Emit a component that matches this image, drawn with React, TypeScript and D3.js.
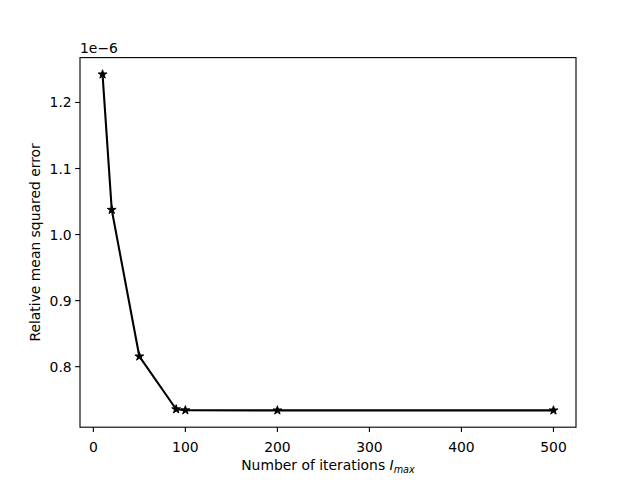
import React from "react";
import * as d3 from "d3";

const iterations = [10, 20, 50, 90, 100, 200, 500];
const errors = [1.2425, 1.0375, 0.8155, 0.7355, 0.734, 0.7338, 0.7338]; // x 1e-6
const xTicks = [0, 100, 200, 300, 400, 500];
const yTicks = [0.8, 0.9, 1.0, 1.1, 1.2];

const W = 640, H = 480;
const L = 80, R = 576, T = 57.6, B = 427.2;

function starPath(r: number) {
  const pts: string[] = [];
  const ri = r * 0.381966;
  for (let i = 0; i < 10; i++) {
    const a = -Math.PI / 2 + (i * Math.PI) / 5;
    const rr = i % 2 === 0 ? r : ri;
    pts.push(`${(rr * Math.cos(a)).toFixed(3)},${(rr * Math.sin(a)).toFixed(3)}`);
  }
  return "M" + pts.join("L") + "Z";
}

export default function App() {
  const xr = d3.extent(iterations) as [number, number];
  const yr = d3.extent(errors) as [number, number];
  const xp = (xr[1] - xr[0]) * 0.05;
  const yp = (yr[1] - yr[0]) * 0.05;
  const x = d3.scaleLinear().domain([xr[0] - xp, xr[1] + xp]).range([L, R]);
  const y = d3.scaleLinear().domain([yr[0] - yp, yr[1] + yp]).range([B, T]);
  const line = d3
    .line<number>()
    .x((_, i) => x(iterations[i]))
    .y((d) => y(d));
  const star = starPath(4.6);
  const font = "DejaVu Sans, sans-serif";
  return (
    <svg width={W} height={H} style={{ display: "block", position: "absolute", left: 0, top: 0 }} fontFamily={font}>
      <rect width={W} height={H} fill="white" />
      <path d={line(errors) || ""} fill="none" stroke="black" strokeWidth={2.08} strokeLinejoin="round" />
      {errors.map((d, i) => (
        <path key={i} d={star} transform={`translate(${x(iterations[i])},${y(d)})`} fill="black" stroke="black" strokeWidth={1} strokeLinejoin="miter" />
      ))}
      <rect x={L} y={T} width={R - L} height={B - T} fill="none" stroke="black" strokeWidth={1.11} />
      {xTicks.map((t) => (
        <g key={t} transform={`translate(${x(t)},${B})`}>
          <line y2={4.86} stroke="black" strokeWidth={1.11} />
          <text y={19} textAnchor="middle" fontSize={13.9} dominantBaseline="hanging" dy={-4.5}>{t}</text>
        </g>
      ))}
      {yTicks.map((t) => (
        <g key={t} transform={`translate(${L},${y(t)})`}>
          <line x2={-4.86} stroke="black" strokeWidth={1.11} />
          <text x={-8.3} textAnchor="end" fontSize={13.9} dy="0.36em">{t.toFixed(1)}</text>
        </g>
      ))}
      <text x={L} y={T - 5} fontSize={13.9}>1e−6</text>
      <text x={(L + R) / 2} y={470} textAnchor="middle" fontSize={13.9}>
        Number of iterations <tspan fontStyle="italic">I</tspan>
        <tspan fontStyle="italic" fontSize={9.7} dy={3}>max</tspan>
      </text>
      <text transform={`translate(${40},${(T + B) / 2}) rotate(-90)`} textAnchor="middle" fontSize={13.9}>
        Relative mean squared error
      </text>
    </svg>
  );
}
